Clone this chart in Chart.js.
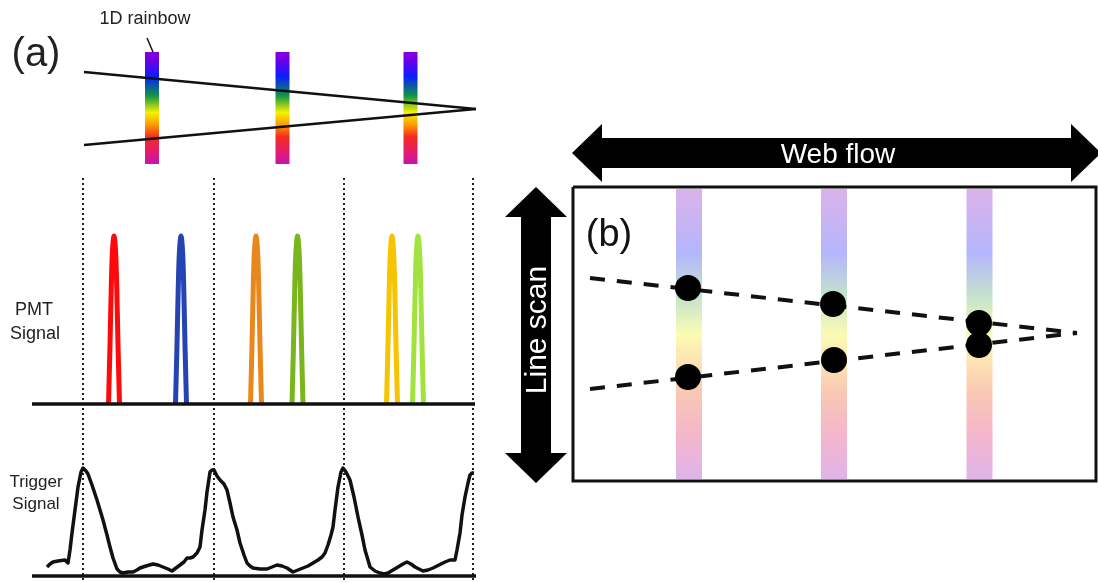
<!DOCTYPE html>
<html>
<head>
<meta charset="utf-8">
<script src="https://cdn.jsdelivr.net/npm/chart.js@4/dist/chart.umd.min.js"></script>
<style>
  html, body { margin: 0; padding: 0; background: #fff; }
  #wrap { width: 1098px; height: 582px; position: relative; }
</style>
</head>
<body>
<div id="wrap"><canvas id="fig"></canvas></div>
<script>
// ---------- Panel (a) data (pixel-space units of the figure) ----------
const rainbowBarsA = [152, 282.5, 410.5];          // x of the three 1D rainbow bars
const rainbowSpanA = [52, 164];                    // top / bottom of those bars
const beamTop = [[84, 72], [476, 109]];
const beamBottom = [[84, 145], [476, 109]];
const leaderLine = [[147, 38], [153, 52]];
const triggerMarks = [83, 214, 344, 473];          // dotted trigger positions
const markSpan = [178, 580];
const pmtBaseline = [[32, 404], [475, 404]];
const triggerBaseline = [[32, 576], [476, 576]];

const peakCenters = [114, 181, 256, 297.5, 392, 418];
const peakColors = ["#ff0a0a", "#2444b4", "#e8881c", "#79b51c", "#f6c400", "#a2e23e"];
// outline of one PMT peak: [offset from centre, y]
const peakProfile = [[-5.5, 404], [-4, 345], [-2.8, 290], [-1.6, 252], [0, 236],
                     [1.6, 252], [2.8, 290], [4, 345], [5.5, 404]];

const triggerX = [47, 50, 53, 58, 65, 68, 70, 72, 75, 78, 81, 83, 86, 88, 92, 97, 100, 103, 107, 110,
  113, 117, 120, 123, 128, 133, 137, 140, 146, 153, 158, 163, 168, 172, 176, 180, 184, 187, 190, 193,
  197, 200, 202, 205, 207, 210, 212, 214, 217, 220, 224, 227, 230, 233, 237, 240, 244, 247, 250, 253,
  260, 267, 272, 277, 282, 287, 290, 293, 298, 303, 308, 313, 318, 322, 325, 328, 331, 333, 335, 338,
  341, 343, 346, 350, 354, 358, 362, 365, 368, 370, 375, 380, 384, 388, 393, 398, 403, 407, 411, 415,
  419, 423, 428, 433, 439, 445, 450, 455, 457, 460, 462, 465, 468, 470, 472, 474];
const triggerY = [567, 564, 562, 561, 560, 563, 550, 533, 510, 487, 472, 468, 471, 474, 485, 500, 510, 520, 535, 547,
  558, 569, 572, 573, 572, 572, 570, 568, 566, 564, 565, 567, 569, 571, 568, 565, 562, 558, 558, 557,
  553, 547, 530, 510, 492, 472, 470, 470, 476, 480, 484, 490, 503, 517, 530, 543, 555, 563, 566, 568,
  569, 569, 567, 565, 566, 568, 570, 572, 570, 568, 566, 563, 560, 557, 553, 545, 535, 527, 510, 487,
  472, 468, 472, 480, 497, 517, 535, 550, 560, 567, 571, 573, 574, 573, 570, 567, 564, 562, 564, 567,
  569, 571, 570, 568, 565, 562, 560, 560, 550, 533, 515, 497, 483, 475, 473, 473];

// ---------- Panel (b) data ----------
const boxB = [[573, 187], [1096, 187], [1096, 481], [573, 481], [573, 187]];
const rainbowBarsB = [689, 834, 979.5];
const rainbowSpanB = [189, 479];
const dashUpper = [[590, 278], [1077, 333]];
const dashLower = [[590, 389], [1077, 333]];
const dotsX = [688, 833, 979, 688, 834, 979];
const dotsY = [288, 304, 323, 377, 360, 345];

const rainbowStopsA = [[0, "#8a00d8"], [0.08, "#6a00e8"], [0.22, "#0a1eff"], [0.39, "#119446"],
  [0.54, "#f4f200"], [0.65, "#ff9a00"], [0.76, "#f42a22"], [0.88, "#e81c66"], [1, "#c414b4"]];
const rainbowStopsB = [[0, "#dcb2ea"], [0.22, "#b4b6fc"], [0.37, "#c4e2cc"], [0.5, "#fbfbb4"],
  [0.6, "#fde2b2"], [0.7, "#f9c8b4"], [0.85, "#f4b6cc"], [1, "#deb4ea"]];

// ---------- helpers ----------
function pts(list) {
  return list.map(([x, y]) => ({ x, y }));
}

function seg(list, opts) {
  return Object.assign({
    data: pts(list), showLine: true, pointRadius: 0, borderWidth: 2,
    borderColor: "#111", fill: false, tension: 0, clip: false, order: 3
  }, opts);
}

function vGradient(chart, y0, y1, stops) {
  const ys = chart.scales.y;
  const g = chart.ctx.createLinearGradient(0, ys.getPixelForValue(y0), 0, ys.getPixelForValue(y1));
  stops.forEach(([o, c]) => g.addColorStop(o, c));
  return g;
}

function rainbowBar(x, span, width, stops) {
  return seg([[x, span[0]], [x, span[1]]], {
    borderWidth: width, borderCapStyle: "butt", order: 9,
    borderColor: (c) => c.chart.chartArea ? vGradient(c.chart, span[0], span[1], stops) : "#888"
  });
}

// ---------- datasets ----------
const datasets = [];

rainbowBarsA.forEach(x => datasets.push(rainbowBar(x, rainbowSpanA, 14, rainbowStopsA)));
rainbowBarsB.forEach(x => datasets.push(rainbowBar(x, rainbowSpanB, 26, rainbowStopsB)));

datasets.push(seg(beamTop, { borderWidth: 2.5 }));
datasets.push(seg(beamBottom, { borderWidth: 2.5 }));
datasets.push(seg(leaderLine, { borderWidth: 1.5 }));

triggerMarks.forEach(x => datasets.push(seg([[x, markSpan[0]], [x, markSpan[1]]], {
  borderWidth: 2, borderDash: [2, 3], borderColor: "#222", order: 8
})));

datasets.push(seg(pmtBaseline, { borderWidth: 3.5, order: 2 }));
datasets.push(seg(triggerBaseline, { borderWidth: 3.5, order: 2 }));

peakCenters.forEach((cx, i) => datasets.push(seg(peakProfile.map(([dx, y]) => [cx + dx, y]), {
  borderWidth: 5, borderColor: peakColors[i], tension: 0.35, order: 4
})));

datasets.push({
  data: triggerX.map((x, i) => ({ x, y: triggerY[i] })), showLine: true, pointRadius: 0,
  borderWidth: 3.5, borderColor: "#111", tension: 0, clip: false, order: 3, borderJoinStyle: "round"
});

datasets.push(seg(boxB, { borderWidth: 3, order: 2 }));
datasets.push(seg(dashUpper, { borderWidth: 4, borderDash: [15, 12], order: 3 }));
datasets.push(seg(dashLower, { borderWidth: 4, borderDash: [15, 12], order: 3 }));
datasets.push({
  data: dotsX.map((x, i) => ({ x, y: dotsY[i] })), showLine: false,
  pointRadius: 13, pointBackgroundColor: "#000", pointBorderWidth: 0, clip: false, order: 0
});

// ---------- arrows & text ----------
const arrows = [
  { dir: "h", from: 572, to: 1101, at: 153, head: 30, headHalf: 29, shaftHalf: 15 },
  { dir: "v", from: 187, to: 483, at: 536, head: 30, headHalf: 31, shaftHalf: 15 }
];
const labels = [
  { text: "1D rainbow", x: 145, y: 24, font: "18px 'Liberation Sans', Arial", color: "#222" },
  { text: "(a)", x: 36, y: 66, font: "40px 'Liberation Sans', Arial", color: "#222" },
  { text: "PMT", x: 34, y: 315, font: "18px 'Liberation Sans', Arial", color: "#222" },
  { text: "Signal", x: 35, y: 339, font: "18px 'Liberation Sans', Arial", color: "#222" },
  { text: "Trigger", x: 36, y: 487, font: "17px 'Liberation Sans', Arial", color: "#222" },
  { text: "Signal", x: 36, y: 509, font: "17px 'Liberation Sans', Arial", color: "#222" },
  { text: "(b)", x: 609, y: 246, font: "38px 'Liberation Sans', Arial", color: "#111" },
  { text: "Web flow", x: 838, y: 163, font: "28px 'Liberation Sans', Arial", color: "#fff" },
  { text: "Line scan", x: 546, y: 330, font: "30px 'Liberation Sans', Arial", color: "#fff", rotate: -Math.PI / 2 }
];

const figurePlugin = {
  id: "figureExtras",
  afterDatasetsDraw(chart) {
    const { ctx, scales: { x: xs, y: ys } } = chart;
    ctx.save();
    ctx.fillStyle = "#000";
    arrows.forEach(a => {
      ctx.beginPath();
      if (a.dir === "h") {
        const y = ys.getPixelForValue(a.at);
        const x0 = xs.getPixelForValue(a.from), x1 = xs.getPixelForValue(a.to);
        ctx.moveTo(x0, y);
        ctx.lineTo(x0 + a.head, y - a.headHalf);
        ctx.lineTo(x0 + a.head, y - a.shaftHalf);
        ctx.lineTo(x1 - a.head, y - a.shaftHalf);
        ctx.lineTo(x1 - a.head, y - a.headHalf);
        ctx.lineTo(x1, y);
        ctx.lineTo(x1 - a.head, y + a.headHalf);
        ctx.lineTo(x1 - a.head, y + a.shaftHalf);
        ctx.lineTo(x0 + a.head, y + a.shaftHalf);
        ctx.lineTo(x0 + a.head, y + a.headHalf);
      } else {
        const x = xs.getPixelForValue(a.at);
        const y0 = ys.getPixelForValue(a.from), y1 = ys.getPixelForValue(a.to);
        ctx.moveTo(x, y0);
        ctx.lineTo(x + a.headHalf, y0 + a.head);
        ctx.lineTo(x + a.shaftHalf, y0 + a.head);
        ctx.lineTo(x + a.shaftHalf, y1 - a.head);
        ctx.lineTo(x + a.headHalf, y1 - a.head);
        ctx.lineTo(x, y1);
        ctx.lineTo(x - a.headHalf, y1 - a.head);
        ctx.lineTo(x - a.shaftHalf, y1 - a.head);
        ctx.lineTo(x - a.shaftHalf, y0 + a.head);
        ctx.lineTo(x - a.headHalf, y0 + a.head);
      }
      ctx.closePath();
      ctx.fill();
    });

    ctx.textAlign = "center";
    ctx.textBaseline = "alphabetic";
    labels.forEach(l => {
      ctx.save();
      ctx.translate(xs.getPixelForValue(l.x), ys.getPixelForValue(l.y));
      if (l.rotate) ctx.rotate(l.rotate);
      ctx.font = l.font;
      ctx.fillStyle = l.color;
      ctx.fillText(l.text, 0, 0);
      ctx.restore();
    });
    ctx.restore();
  }
};

new Chart(document.getElementById("fig"), {
  type: "scatter",
  data: { datasets },
  options: {
    responsive: true,
    maintainAspectRatio: false,
    animation: false,
    events: [],
    layout: { padding: 0, autoPadding: false },
    plugins: { legend: { display: false }, tooltip: { enabled: false } },
    scales: {
      x: { type: "linear", min: 0, max: 1098, display: false },
      y: { type: "linear", min: 0, max: 582, reverse: true, display: false }
    }
  },
  plugins: [figurePlugin]
});
</script>
</body>
</html>
